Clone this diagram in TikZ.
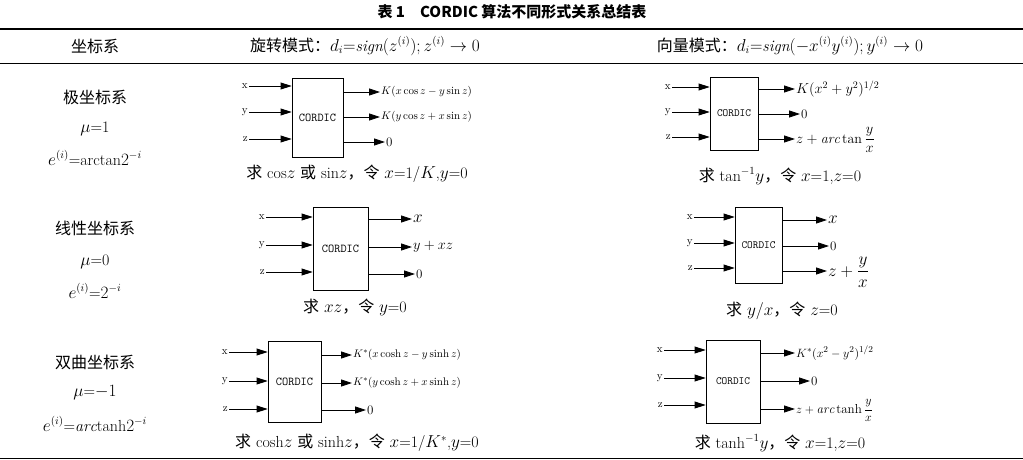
\documentclass[tikz,border=0pt]{standalone}
\usepackage{fontspec}
\usepackage{amsmath}
\setmainfont{Latin Modern Roman}
\newfontfamily\cjk{Noto Sans CJK SC}
\usetikzlibrary{arrows.meta}
\newcommand\fs[1]{\fontsize{#1}{#1}\selectfont}
\begin{document}
\begin{tikzpicture}[x=1pt,y=-1pt,
  cbox/.style={draw,thick,inner sep=0pt,font=\ttfamily\fs{12}},
  arr/.style={thick,-{Triangle[length=11pt,width=7pt]}},
  inl/.style={anchor=east,inner sep=1pt,font=\fs{11}},
  outl/.style={anchor=west,inner sep=1pt},
  txt/.style={font=\fs{16}}]
\useasboundingbox (0,0) rectangle (1023,460);
\node[font=\cjk\bfseries\fs{15}] (title) at (512,12) {表 1\quad CORDIC 算法不同形式关系总结表};
\draw[line width=1.2pt] (0,29) -- (1023,29);
\draw[line width=0.6pt] (0,63) -- (1023,63);
\draw[line width=0.8pt] (0,458) -- (1023,458);
\node[txt] (h1) at (95,46) {\cjk 坐标系};
\node[txt] (h2) at (365,46) {{\cjk 旋转模式：}$d_i{=}\mathit{sign}(z^{(i)});z^{(i)}\rightarrow 0$};
\node[txt] (h3) at (790,46) {{\cjk 向量模式：}$d_i{=}\mathit{sign}(-x^{(i)}y^{(i)});y^{(i)}\rightarrow 0$};
% left column
\node[txt] (a1) at (95,97) {\cjk 极坐标系};
\node[txt] (a2) at (95,129) {$\mu$=1};
\node[txt] (a3) at (95,158) {$e^{(i)}$=arctan$2^{-i}$};
\node[txt] (b1) at (95,228) {\cjk 线性坐标系};
\node[txt] (b2) at (95,262) {$\mu$=0};
\node[txt] (b3) at (95,291) {$e^{(i)}$=$2^{-i}$};
\node[txt] (c1) at (95,362) {\cjk 双曲坐标系};
\node[txt] (c2) at (95,393) {$\mu$=$-1$};
\node[txt] (c3) at (95,424) {$e^{(i)}$=$\mathit{arc}$tanh$2^{-i}$};
% block 1
\node[cbox,minimum width=51pt,minimum height=79pt] (p1) at (317.5,117.5) {CORDIC};
\node[inl] (p1x) at (249,86) {x}; \node[inl] (p1y) at (249,112) {y}; \node[inl] (p1z) at (249,139) {z};
\foreach \n in {x,y,z} \draw[arr] (p1\n.east) -- (p1\n.east -| p1.west);
\node[outl,font=\fs{11}] (p1a) at (380,92) {$K(x\cos z-y\sin z)$};
\node[outl,font=\fs{11}] (p1b) at (380,117) {$K(y\cos z+x\sin z)$};
\node[outl,font=\fs{13}] (p1c) at (385,142) {0};
\foreach \n in {a,b,c} \draw[arr] (p1\n.west -| p1.east) -- (p1\n.west);
\node[txt] (p1t) at (357,174) {{\cjk 求} cos$z$ {\cjk 或} sin$z${\cjk ，令} $x$=1/$K$,$y$=0};
% block 2
\node[cbox,minimum width=48pt,minimum height=73pt,font=\ttfamily\fs{11}] (q1) at (734,113.5) {CORDIC};
\node[inl] (q1x) at (672,87) {x}; \node[inl] (q1y) at (672,112) {y}; \node[inl] (q1z) at (672,137) {z};
\foreach \n in {x,y,z} \draw[arr] (q1\n.east) -- (q1\n.east -| q1.west);
\node[outl,font=\fs{14}] (q1a) at (795,89) {$K(x^2+y^2)^{1/2}$};
\node[outl,font=\fs{13}] (q1b) at (800,114) {0};
\node[outl,font=\fs{14},anchor=base west] (q1c) at (795,143) {$z+\mathit{arc}\tan\dfrac{y}{x}$};
\draw[arr] (q1.east |- 0,89) -- (q1a.west);
\draw[arr] (q1.east |- 0,114) -- (q1b.west);
\draw[arr] (q1.east |- 0,139) -- (795,139);
\node[txt] (q1t) at (780,176) {{\cjk 求} tan$^{-1}y${\cjk ，令} $x$=1,$z$=0};
% block 3
\node[cbox,minimum width=55pt,minimum height=83pt] (p2) at (340.5,248.5) {CORDIC};
\node[inl] (p2x) at (266,217) {x}; \node[inl] (p2y) at (266,245) {y}; \node[inl] (p2z) at (266,272) {z};
\foreach \n in {x,y,z} \draw[arr] (p2\n.east) -- (p2\n.east -| p2.west);
\node[outl,font=\fs{18}] (p2a) at (412,219) {$x$};
\node[outl,font=\fs{15}] (p2b) at (412,247) {$y+xz$};
\node[outl,font=\fs{13}] (p2c) at (415,274) {0};
\foreach \n in {a,b,c} \draw[arr] (p2\n.west -| p2.east) -- (p2\n.west);
\node[txt] (p2t) at (355,307) {{\cjk 求} $xz${\cjk ，令} $y$=0};
% block 4
\node[cbox,minimum width=47pt,minimum height=76pt,font=\ttfamily\fs{11}] (q2) at (758.5,245) {CORDIC};
\node[inl] (q2x) at (694,217) {x}; \node[inl] (q2y) at (694,243) {y}; \node[inl] (q2z) at (694,268) {z};
\foreach \n in {x,y,z} \draw[arr] (q2\n.east) -- (q2\n.east -| q2.west);
\node[outl,font=\fs{17}] (q2a) at (827,220) {$x$};
\node[outl,font=\fs{13}] (q2b) at (829,246) {0};
\node[outl,font=\fs{16},anchor=base west] (q2c) at (827,276) {$z+\dfrac{y}{x}$};
\draw[arr] (q2.east |- 0,220) -- (q2a.west);
\draw[arr] (q2.east |- 0,246) -- (q2b.west);
\draw[arr] (q2.east |- 0,271) -- (827,271);
\node[txt] (q2t) at (782,311) {{\cjk 求} $y/x${\cjk ，令} $z$=0};
% block 5
\node[cbox,minimum width=53pt,minimum height=81pt] (p3) at (294.5,381.5) {CORDIC};
\node[inl] (p3x) at (229,352) {x}; \node[inl] (p3y) at (229,381) {y}; \node[inl] (p3z) at (229,409) {z};
\foreach \n in {x,y,z} \draw[arr] (p3\n.east) -- (p3\n.east -| p3.west);
\node[outl,font=\fs{11}] (p3a) at (352,355) {$K^*(x\cosh z-y\sinh z)$};
\node[outl,font=\fs{11}] (p3b) at (352,383) {$K^*(y\cosh z+x\sinh z)$};
\node[outl,font=\fs{13}] (p3c) at (366,410) {0};
\foreach \n in {a,b,c} \draw[arr] (p3\n.west -| p3.east) -- (p3\n.west);
\node[txt] (p3t) at (357,443) {{\cjk 求} cosh$z$ {\cjk 或} sinh$z${\cjk ，令} $x$=1/$K^*$,$y$=0};
% block 6
\node[cbox,minimum width=54pt,minimum height=83pt,font=\ttfamily\fs{11}] (q3) at (733,381.5) {CORDIC};
\node[inl] (q3x) at (664,350) {x}; \node[inl] (q3y) at (664,378) {y}; \node[inl] (q3z) at (664,405) {z};
\foreach \n in {x,y,z} \draw[arr] (q3\n.east) -- (q3\n.east -| q3.west);
\node[outl,font=\fs{13}] (q3a) at (795,353) {$K^*(x^2-y^2)^{1/2}$};
\node[outl,font=\fs{13}] (q3b) at (810,381) {0};
\node[outl,font=\fs{13},anchor=base west] (q3c) at (795,413) {$z+\mathit{arc}\tanh\dfrac{y}{x}$};
\draw[arr] (q3.east |- 0,353) -- (q3a.west);
\draw[arr] (q3.east |- 0,381) -- (q3b.west);
\draw[arr] (q3.east |- 0,409) -- (795,409);
\node[txt] (q3t) at (780,443) {{\cjk 求} tanh$^{-1}y${\cjk ，令} $x$=1,$z$=0};
\end{tikzpicture}
\end{document}
